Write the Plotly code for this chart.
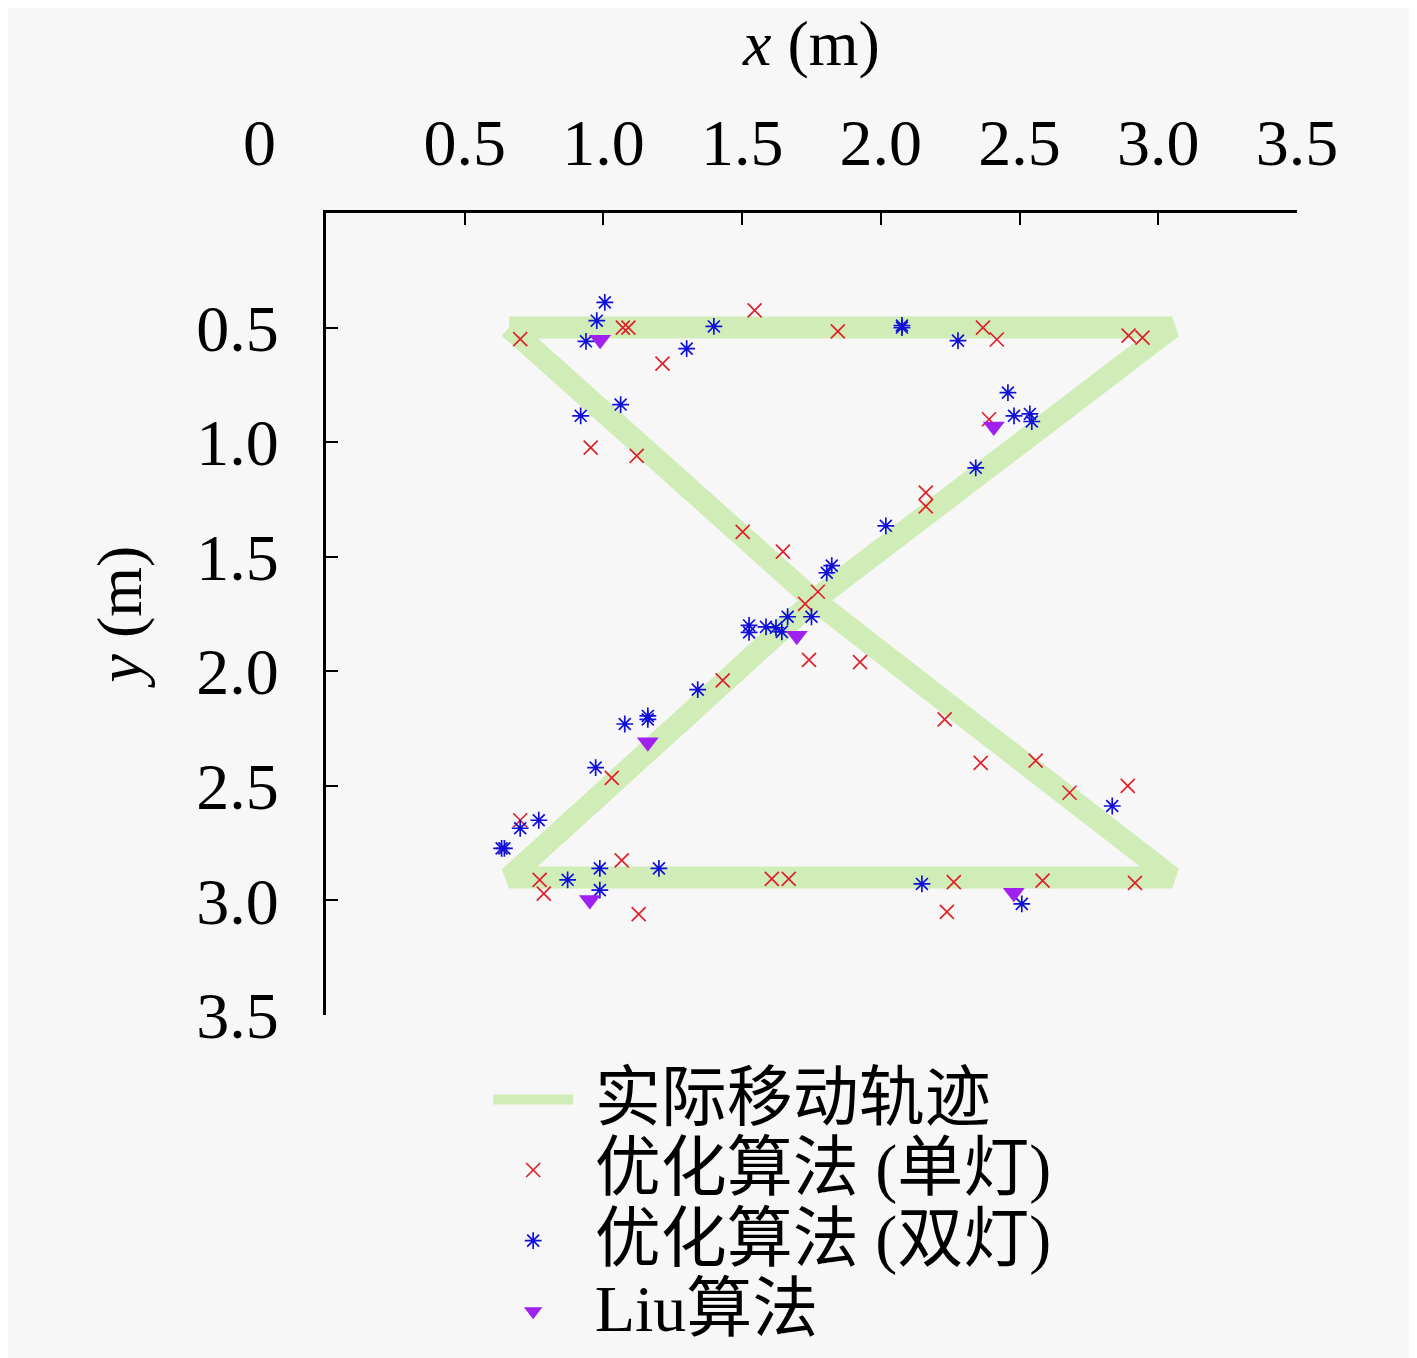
import plotly.graph_objects as go

# actual trajectory (band)
path_x = [0.66, 3.05, 1.76, 0.66, 3.05, 1.76, 0.66]
path_y = [0.50, 0.50, 1.69, 2.90, 2.90, 1.69, 0.50]

# optimised algorithm, single lamp
single_x = [0.70, 1.07, 1.09, 1.545, 1.845, 2.368, 2.418, 2.893, 2.943, 1.213,
            0.954, 1.12, 1.502, 1.647, 2.162, 2.162, 1.773, 1.727, 1.741, 1.925,
            1.43, 2.23, 2.36, 2.558, 2.68, 2.89, 1.03, 0.70, 0.77, 0.785,
            1.066, 1.127, 1.607, 1.668, 2.238, 2.263, 2.583, 2.916, 2.39]
single_y = [0.55, 0.50, 0.50, 0.425, 0.517, 0.50, 0.552, 0.535, 0.544, 0.657,
            1.024, 1.06, 1.392, 1.478, 1.22, 1.28, 1.653, 1.706, 1.95, 1.96,
            2.04, 2.21, 2.40, 2.39, 2.53, 2.50, 2.465, 2.65, 2.91, 2.97,
            2.825, 3.06, 2.906, 2.906, 3.05, 2.92, 2.914, 2.923, 0.90]

# optimised algorithm, double lamp
double_x = [1.005, 0.976, 0.937, 1.398, 2.076, 2.076, 2.278, 1.30, 1.062, 0.918,
            2.458, 2.48, 2.537, 2.544, 2.342, 2.018, 1.823, 1.805, 1.664, 1.75,
            1.525, 1.525, 1.586, 1.622, 1.643, 1.34, 1.16, 1.16, 1.077, 0.972,
            0.767, 0.70, 0.633, 0.643, 0.871, 0.987, 0.987, 1.20, 2.148, 2.508,
            2.834]
double_y = [0.39, 0.47, 0.56, 0.495, 0.491, 0.50, 0.557, 0.592, 0.836, 0.885,
            0.784, 0.885, 0.877, 0.91, 1.112, 1.365, 1.539, 1.57, 1.762, 1.762,
            1.80, 1.83, 1.806, 1.81, 1.828, 2.08, 2.195, 2.21, 2.23, 2.42,
            2.65, 2.685, 2.773, 2.773, 2.91, 2.86, 2.955, 2.86, 2.928, 3.015,
            2.588]

# Liu algorithm
liu_x = [0.988, 2.407, 1.697, 1.16, 0.951, 2.479]
liu_y = [0.553, 0.932, 1.845, 2.31, 2.998, 2.967]

tick_vals = [0.5, 1.0, 1.5, 2.0, 2.5, 3.0, 3.5]
tick_text = ["0.5", "1.0", "1.5", "2.0", "2.5", "3.0", "3.5"]

FONT = "Liberation Serif, Noto Sans CJK SC, serif"
BIG = '<span style="font-size:66px">\u00a0{}</span>'

fig = go.Figure()
fig.add_trace(go.Scatter(
    x=path_x, y=path_y, mode="lines", name=BIG.format("实际移动轨迹"),
    line=dict(color="#d0edb8", width=22)))
fig.add_trace(go.Scatter(
    x=single_x, y=single_y, mode="markers", name=BIG.format("优化算法 (单灯)"),
    marker=dict(symbol="x-thin", size=14, color="#e0202a",
                line=dict(color="#e0202a", width=1.7))))
fig.add_trace(go.Scatter(
    x=double_x, y=double_y, mode="markers", name=BIG.format("优化算法 (双灯)"),
    marker=dict(symbol="asterisk", size=14, color="#1010d8",
                line=dict(color="#1010d8", width=1.7))))
fig.add_trace(go.Scatter(
    x=liu_x, y=liu_y, mode="markers", name=BIG.format("Liu算法"),
    marker=dict(symbol="triangle-down", size=19, color="#a020f0")))

axis_common = dict(
    tickvals=tick_vals, ticktext=tick_text, ticks="inside", ticklen=12,
    tickwidth=2, tickcolor="black", showline=True, linewidth=3,
    linecolor="black", showgrid=False, zeroline=False,
    tickfont=dict(family=FONT, size=66, color="black"),
)
fig.update_xaxes(side="top", range=[0, 3.5], ticklabelstandoff=19,
                 title=dict(text="<i>x</i> (m)", standoff=65,
                            font=dict(family=FONT, size=64, color="black")),
                 **axis_common)
fig.update_yaxes(range=[3.5, 0], ticklabelstandoff=31,
                 title=dict(text="<i>y</i> (m)", standoff=34,
                            font=dict(family=FONT, size=64, color="black")),
                 **axis_common)

fig.add_annotation(text="0", xref="paper", yref="paper", x=-0.068, y=1.088,
                   showarrow=False, xanchor="center", yanchor="middle",
                   font=dict(family=FONT, size=66, color="black"))

fig.update_layout(
    width=1409, height=1350,
    margin=dict(l=318, r=120, t=205, b=343, autoexpand=False),
    paper_bgcolor="#f7f7f7", plot_bgcolor="#f7f7f7",
    font=dict(family=FONT, color="black"),
    showlegend=True,
    legend=dict(x=0.167, y=-0.055, xanchor="left", yanchor="top",
                bgcolor="rgba(0,0,0,0)", itemwidth=80,
                font=dict(family=FONT, size=52, color="black")),
)

fig.write_html("out.html")
